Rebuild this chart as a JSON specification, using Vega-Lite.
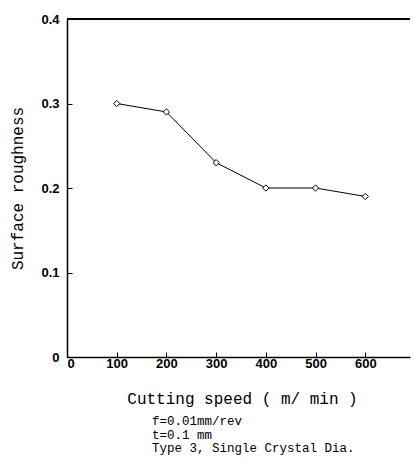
{
  "$schema": "https://vega.github.io/schema/vega-lite/v6.json",
  "autosize": "none",
  "width": 343,
  "height": 338,
  "padding": {"left": 67, "top": 19, "right": 4, "bottom": 107},
  "background": "white",
  "config": {"view": {"stroke": null}},
  "title": {
    "text": ["f=0.01mm/rev", "t=0.1  mm", "Type 3, Single Crystal Dia."],
    "orient": "bottom",
    "anchor": "start",
    "dx": 142,
    "offset": 9,
    "font": "Liberation Mono",
    "fontSize": 12.5,
    "fontWeight": "normal",
    "lineHeight": 13.5,
    "color": "black"
  },
  "data": {"values": [
    {"speed": 100, "roughness": 0.30},
    {"speed": 200, "roughness": 0.29},
    {"speed": 300, "roughness": 0.23},
    {"speed": 400, "roughness": 0.20},
    {"speed": 500, "roughness": 0.20},
    {"speed": 600, "roughness": 0.19}
  ]},
  "encoding": {
    "x": {
      "field": "speed", "type": "quantitative",
      "scale": {"domain": [0, 690], "nice": false, "zero": true},
      "axis": {
        "values": [0, 100, 200, 300, 400, 500, 600],
        "title": "Cutting speed ( m/ min )",
        "titleFont": "Liberation Mono", "titleFontSize": 16, "titleFontWeight": "normal",
        "titleColor": "black", "titlePadding": 20, "titleX": 175,
        "labelFont": "Liberation Sans", "labelFontSize": 13, "labelFontWeight": "bold",
        "labelColor": "black", "labelPadding": 5,
        "tickSize": -5, "tickColor": "black", "domainColor": "black", "domainWidth": 1.5,
        "grid": false
      }
    },
    "y": {
      "field": "roughness", "type": "quantitative",
      "scale": {"domain": [0, 0.4], "nice": false},
      "axis": {
        "values": [0, 0.1, 0.2, 0.3, 0.4],
        "labelExpr": "datum.value == 0 ? '0' : format(datum.value, '.1f')",
        "title": "Surface roughness",
        "titleFont": "Liberation Mono", "titleFontSize": 16, "titleFontWeight": "normal",
        "titleColor": "black", "titlePadding": 15,
        "labelFont": "Liberation Sans", "labelFontSize": 13, "labelFontWeight": "bold",
        "labelColor": "black", "labelPadding": 13,
        "tickSize": -5, "tickColor": "black", "domainColor": "black", "domainWidth": 1.5,
        "grid": false
      }
    }
  },
  "layer": [
    {"mark": {"type": "rule", "color": "black", "strokeWidth": 1}, "encoding": {"x": null, "y": {"datum": 0.4}}},
    {"mark": {"type": "line", "color": "black", "strokeWidth": 1}},
    {"mark": {"type": "point", "shape": "diamond", "filled": true, "fill": "white", "stroke": "black", "strokeWidth": 1, "size": 40, "opacity": 1}}
  ]
}
